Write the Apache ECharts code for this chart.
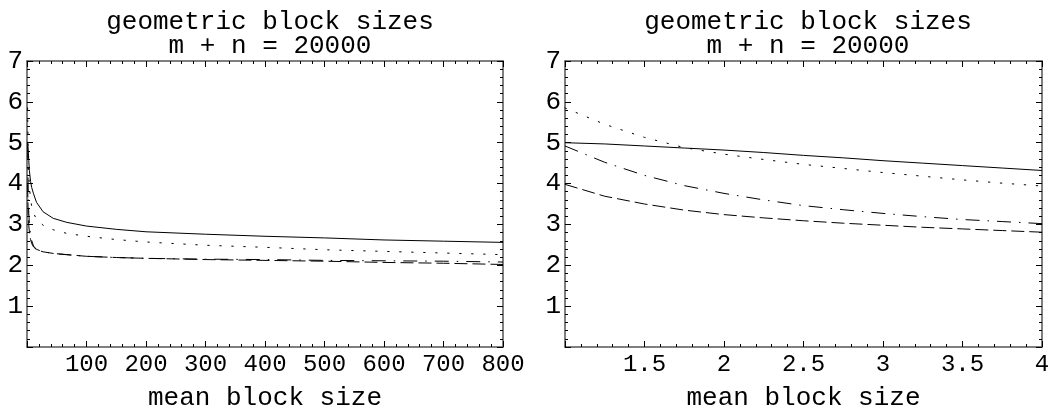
<!DOCTYPE html>
<html><head><meta charset="utf-8">
<script src="https://cdn.jsdelivr.net/npm/echarts@6/dist/echarts.min.js"></script>
<style>html,body{margin:0;padding:0;background:#fff}#c{width:1053px;height:416px}</style>
</head><body><div id="c"></div>
<script>
// ---- data ----
const titleText = 'geometric block sizes\nm + n = 20000';
const xName = 'mean block size';
// left panel: mean block size 1..800
const leftX = [1, 2, 3, 4, 6, 8, 11, 16, 27, 44, 67, 100, 150, 200, 300, 400, 500, 600, 700, 800];
const leftSolid   = [5.0, 4.82, 4.56, 4.32, 4.05, 3.9, 3.75, 3.54, 3.31, 3.15, 3.05, 2.96, 2.88, 2.82, 2.76, 2.71, 2.67, 2.62, 2.59, 2.56];
const leftDotted  = [5.85, 4.72, 4.27, 3.94, 3.62, 3.44, 3.28, 3.12, 2.98, 2.87, 2.78, 2.71, 2.63, 2.57, 2.49, 2.44, 2.38, 2.34, 2.30, 2.26];
const leftDashDot = [4.92, 3.76, 3.27, 3.02, 2.74, 2.6, 2.47, 2.39, 2.33, 2.29, 2.26, 2.22, 2.19, 2.17, 2.15, 2.14, 2.12, 2.11, 2.10, 2.08];
const leftDashed  = [3.98, 3.24, 2.98, 2.81, 2.63, 2.53, 2.45, 2.38, 2.33, 2.29, 2.26, 2.22, 2.19, 2.17, 2.14, 2.12, 2.10, 2.07, 2.05, 2.02];
// right panel: mean block size 1..4
const rightX = [1, 1.25, 1.5, 1.75, 2, 2.25, 2.5, 2.75, 3, 3.25, 3.5, 3.75, 4];
const rightSolid   = [5.0, 4.97, 4.92, 4.87, 4.82, 4.76, 4.69, 4.63, 4.56, 4.50, 4.44, 4.38, 4.32];
const rightDotted  = [5.85, 5.45, 5.13, 4.88, 4.72, 4.59, 4.47, 4.37, 4.27, 4.18, 4.09, 4.01, 3.94];
const rightDashDot = [4.92, 4.52, 4.2, 3.95, 3.76, 3.6, 3.46, 3.36, 3.27, 3.19, 3.12, 3.07, 3.02];
const rightDashed  = [3.98, 3.69, 3.5, 3.35, 3.24, 3.16, 3.09, 3.03, 2.98, 2.93, 2.89, 2.85, 2.81];
const leftXTicks = {min: 0, max: 800, interval: 100};
const rightXTicks = {min: 1, max: 4, interval: 0.5};
const yTicks = {min: 0, max: 7, interval: 1};

// ---- chart ----
const FONT = '"Liberation Mono", "DejaVu Sans Mono", monospace';
const frameColor = '#555';
const grids = [
  {left: 27, right: 550, top: 61, bottom: 60},
  {left: 565, right: 11, top: 61, bottom: 60}
];
function zip(xs, ys){ return xs.map((x,i)=>[x, ys[i]]); }
function fmt(min){ return v => (Math.abs(v - min) < 1e-9 ? '' : String(v)); }

const xAxes = [], yAxes = [];
[leftXTicks, rightXTicks].forEach((t, gi) => {
  const base = {
    type: 'value', gridIndex: gi, min: t.min, max: t.max, interval: t.interval,
    axisLine: {show: true, onZero: false, lineStyle: {color: frameColor, width: 1.5}},
    axisTick: {show: true, inside: true, length: 6, lineStyle: {color: '#000', width: 1}},
    minorTick: {show: true, splitNumber: 5, length: 3, lineStyle: {color: '#000', width: 1}},
    splitLine: {show: false}
  };
  xAxes.push(Object.assign({}, base, {
    position: 'bottom',
    axisLabel: {show: true, margin: 6, color: '#000', fontFamily: FONT, fontSize: 24, formatter: fmt(t.min), showMinLabel: true},
    name: xName, nameLocation: 'middle', nameGap: 38,
    nameTextStyle: {color: '#000', fontFamily: FONT, fontSize: 26}
  }));
  xAxes.push(Object.assign({}, base, {position: 'top', axisLabel: {show: false}}));
  const ybase = {
    type: 'value', gridIndex: gi, min: yTicks.min, max: yTicks.max, interval: yTicks.interval,
    axisLine: {show: true, onZero: false, lineStyle: {color: frameColor, width: 1.5}},
    axisTick: {show: true, inside: true, length: 6, lineStyle: {color: '#000', width: 1}},
    minorTick: {show: true, splitNumber: 5, length: 3, lineStyle: {color: '#000', width: 1}},
    splitLine: {show: false}
  };
  yAxes.push(Object.assign({}, ybase, {
    position: 'left',
    axisLabel: {show: true, margin: 4, color: '#000', fontFamily: FONT, fontSize: 26, formatter: fmt(yTicks.min)}
  }));
  yAxes.push(Object.assign({}, ybase, {position: 'right', axisLabel: {show: false}}));
});

const styles = [
  {type: 'solid'},
  {type: [1.5, 10.5], cap: 'round'},
  {type: [14, 8, 1.5, 8]},
  {type: [13, 5]}
];
const series = [];
[[leftX, [leftSolid, leftDotted, leftDashDot, leftDashed]],
 [rightX, [rightSolid, rightDotted, rightDashDot, rightDashed]]].forEach(([xs, ysets], gi) => {
  ysets.forEach((ys, si) => {
    series.push({
      type: 'line', xAxisIndex: gi*2, yAxisIndex: gi*2, data: zip(xs, ys),
      showSymbol: false, smooth: false, animation: false,
      lineStyle: Object.assign({color: '#000', width: 1}, styles[si])
    });
  });
});

const chart = echarts.init(document.getElementById('c'), null, {renderer: 'canvas'});
chart.setOption({
  animation: false,
  backgroundColor: '#fff',
  title: [
    {text: titleText, left: 265, top: 5, textAlign: 'center',
     textStyle: {fontFamily: FONT, fontSize: 26, fontWeight: 'normal', color: '#000', lineHeight: 24, align: 'center'}},
    {text: titleText, left: 803, top: 5, textAlign: 'center',
     textStyle: {fontFamily: FONT, fontSize: 26, fontWeight: 'normal', color: '#000', lineHeight: 24, align: 'center'}}
  ],
  grid: grids,
  xAxis: xAxes,
  yAxis: yAxes,
  series: series
});
</script></body></html>
